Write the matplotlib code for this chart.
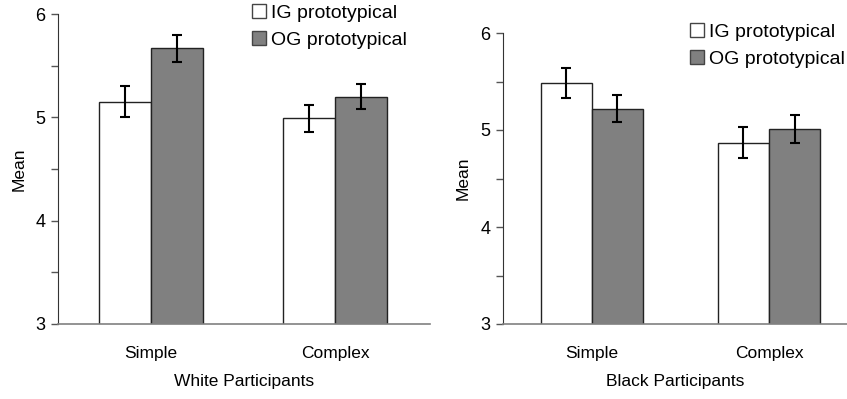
import matplotlib
matplotlib.use("Agg")
import matplotlib.pyplot as plt
import numpy as np
from matplotlib.patches import Patch

plt.rcParams['font.family'] = ['Liberation Sans', 'DejaVu Sans']

categories = ["Simple", "Complex"]
series_names = ["IG prototypical", "OG prototypical"]

white_ig = [5.15, 4.99]
white_og = [5.67, 5.20]
white_ig_se = [0.15, 0.13]
white_og_se = [0.13, 0.12]

black_ig = [5.48, 4.87]
black_og = [5.22, 5.01]
black_ig_se = [0.155, 0.157]
black_og_se = [0.14, 0.14]

yticks = [3, 4, 5, 6]

W, H = 847, 399
fig = plt.figure(figsize=(W / 100, H / 100), dpi=100)

def px_axes(x0, x1, ytop, ybot):
    return fig.add_axes([x0 / W, (H - ybot) / H, (x1 - x0) / W, (ybot - ytop) / H])

def draw(ax, ig, og, ig_se, og_se, xlim, bw, xlabel, leg_xy, ylabelpad):
    x = np.arange(len(categories))
    ax.bar(x - bw / 2, ig, bw, color='white', edgecolor='#222222', linewidth=1.0, zorder=2)
    ax.bar(x + bw / 2, og, bw, color='#808080', edgecolor='#222222', linewidth=1.0, zorder=2)
    ax.errorbar(x - bw / 2, ig, yerr=ig_se, fmt='none', ecolor='black', elinewidth=1.5, capsize=3.5, capthick=1.5, zorder=3)
    ax.errorbar(x + bw / 2, og, yerr=og_se, fmt='none', ecolor='black', elinewidth=1.5, capsize=3.5, capthick=1.5, zorder=3)
    ax.set_ylim(3, 6)
    ax.set_xlim(*xlim)
    ax.set_yticks(yticks)
    ax.set_yticks([3.5, 4.5, 5.5], minor=True)
    ax.set_xticks(x)
    ax.set_xticklabels(categories, fontsize=12.5)
    ax.tick_params(axis='x', length=0, pad=16)
    ax.tick_params(axis='y', which='both', direction='out', length=5, width=1, color='#555555', labelsize=13, pad=4)
    for s in ['top', 'right']:
        ax.spines[s].set_visible(False)
    ax.spines['left'].set_color('#333333')
    ax.spines['bottom'].set_color('#808080')
    ax.spines['bottom'].set_linewidth(1.2)
    ax.set_ylabel("Mean", fontsize=12.5, labelpad=ylabelpad)
    ax.set_xlabel(xlabel, fontsize=12.5, labelpad=9)
    handles = [Patch(facecolor='white', edgecolor='#444444'), Patch(facecolor='#808080', edgecolor='#444444')]
    fig.legend(handles, series_names, loc='upper left',
               bbox_to_anchor=(leg_xy[0] / W, 1 - leg_xy[1] / H), frameon=False, fontsize=14,
               handlelength=0.7, handleheight=0.7, handletextpad=0.3, labelspacing=0.5, borderpad=0, borderaxespad=0)

ax1 = px_axes(58, 430, 14, 324)
draw(ax1, white_ig, white_og, white_ig_se, white_og_se, (-0.505, 1.516), 0.283, "White Participants", (252, 4), 6)

ax2 = px_axes(503, 847, 33, 324)
draw(ax2, black_ig, black_og, black_ig_se, black_og_se, (-0.5, 1.44), 0.288, "Black Participants", (690, 23), 7)

fig.savefig("out.png", dpi=100)
